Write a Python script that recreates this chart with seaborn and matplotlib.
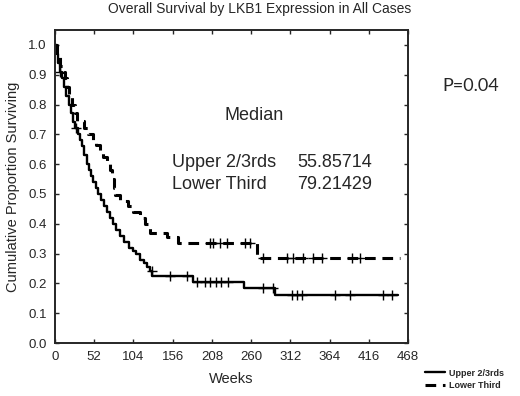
import numpy as np
import pandas as pd
import seaborn as sns
import matplotlib.pyplot as plt

# Kaplan-Meier steps
upper_weeks = [0, 2, 4, 6, 9, 12, 15, 18, 21, 24, 27, 30, 33, 36, 39, 42, 45, 48, 51, 54,
               57, 61, 65, 69, 73, 77, 81, 86, 92, 98, 104, 108, 113, 118, 122, 126, 129,
               183, 250, 292, 455]
upper_surv = [1.0, 0.97, 0.94, 0.91, 0.89, 0.86, 0.83, 0.80, 0.77, 0.74, 0.72, 0.70, 0.68,
              0.66, 0.63, 0.60, 0.58, 0.56, 0.54, 0.52, 0.50, 0.48, 0.46, 0.44, 0.42, 0.40,
              0.38, 0.36, 0.34, 0.32, 0.31, 0.30, 0.28, 0.27, 0.255, 0.24, 0.225,
              0.205, 0.185, 0.16, 0.16]
lower_weeks = [0, 3, 6, 10, 13, 16, 19, 22, 26, 29, 38, 44, 50, 55, 60, 64, 69, 73, 76, 78,
               80, 86, 97, 104, 113, 119, 126, 148, 163, 268, 457]
lower_surv = [1.0, 0.96, 0.93, 0.91, 0.89, 0.86, 0.83, 0.80, 0.77, 0.745, 0.72, 0.70, 0.68,
              0.665, 0.64, 0.625, 0.60, 0.58, 0.55, 0.52, 0.495, 0.475, 0.46, 0.44, 0.42,
              0.40, 0.37, 0.355, 0.335, 0.285, 0.285]

# censored observations (weeks)
upper_censor = [7, 28, 128, 152, 175, 188, 199, 206, 213, 220, 229, 276, 289,
                314, 321, 327, 371, 391, 435, 447]
lower_censor = [205, 210, 219, 228, 252, 258, 276, 307, 316, 329, 342, 354, 394, 405]

week_ticks = [0, 52, 104, 156, 208, 260, 312, 364, 416, 468]
surv_ticks = [0.0, 0.1, 0.2, 0.3, 0.4, 0.5, 0.6, 0.7, 0.8, 0.9, 1.0]


def censor_points(weeks, surv, times):
    idx = np.searchsorted(weeks, times, side="right") - 1
    return pd.DataFrame({"Weeks": times, "Survival": np.array(surv)[idx]})


upper = pd.DataFrame({"Weeks": upper_weeks, "Survival": upper_surv})
lower = pd.DataFrame({"Weeks": lower_weeks, "Survival": lower_surv})

sns.set_style("ticks")
plt.rcParams["font.family"] = ["Liberation Sans", "DejaVu Sans"]

fig = plt.figure(figsize=(5.2, 3.96), dpi=100)
ax = fig.add_axes([55 / 520, 53 / 396, 353 / 520, 313 / 396])

sns.lineplot(data=upper, x="Weeks", y="Survival", drawstyle="steps-post",
             estimator=None, sort=False, color="black", lw=1.7,
             label="Upper 2/3rds", ax=ax)
sns.lineplot(data=lower, x="Weeks", y="Survival", drawstyle="steps-post",
             estimator=None, sort=False, color="black", lw=2.2,
             linestyle=(0, (3.5, 2.2)), label="Lower Third", ax=ax)

for w, s, c in [(upper_weeks, upper_surv, upper_censor),
                (lower_weeks, lower_surv, lower_censor)]:
    sns.scatterplot(data=censor_points(w, s, c), x="Weeks", y="Survival",
                    marker="+", s=45, color="black", linewidth=1,
                    legend=False, ax=ax)

ax.set_xlim(0, 468)
ax.set_ylim(0, 1.05)
ax.set_xticks(week_ticks)
ax.set_yticks(surv_ticks)
ax.set_yticklabels([f"{v:.1f}" for v in surv_ticks])
ax.tick_params(direction="in", length=3, width=1, top=True, right=True,
               labelsize=9.5, pad=6)
for sp in ax.spines.values():
    sp.set_linewidth(1.4)
ax.set_xlabel("Weeks", fontsize=10.5, labelpad=6)
ax.set_ylabel("Cumulative Proportion Surviving", fontsize=10.5, labelpad=6)

fig.text(260 / 520, 1 - 9 / 396, "Overall Survival by LKB1 Expression in All Cases",
         ha="center", va="center", fontsize=10)
fig.text(254 / 520, 1 - 115 / 396, "Median", ha="center", va="center", fontsize=13)
fig.text(172 / 520, 1 - 163 / 396, "Upper 2/3rds", ha="left", va="center", fontsize=13)
fig.text(297 / 520, 1 - 163 / 396, "55.85714", ha="left", va="center", fontsize=13)
fig.text(172 / 520, 1 - 185 / 396, "Lower Third", ha="left", va="center", fontsize=13)
fig.text(297 / 520, 1 - 185 / 396, "79.21429", ha="left", va="center", fontsize=13)
fig.text(442 / 520, 1 - 86 / 396, "P=0.04", ha="left", va="center", fontsize=13,
         family=["Lato", "DejaVu Sans"])

leg = ax.legend(loc="upper left", bbox_to_anchor=(420 / 520, 1 - 364 / 396),
                bbox_transform=fig.transFigure, frameon=False, fontsize=6.5,
                handlelength=2.3, labelspacing=0.35, borderpad=0, handletextpad=0.4)
for t in leg.get_texts():
    t.set_fontweight("bold")

fig.savefig("out.png", dpi=100)
